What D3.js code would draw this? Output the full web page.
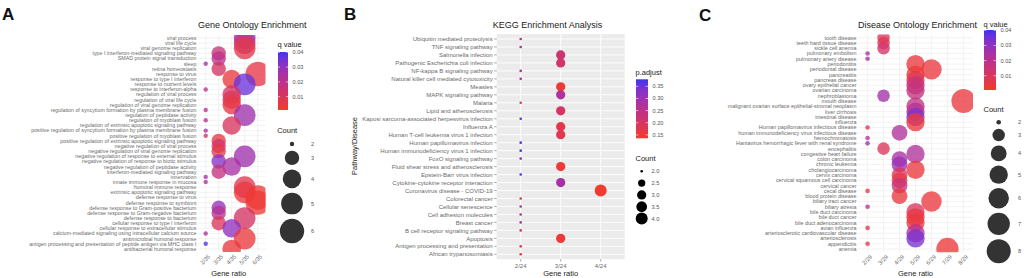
<!DOCTYPE html>
<html>
<head>
<meta charset="utf-8">
<script src="https://cdn.jsdelivr.net/npm/d3@7"></script>
<style>
body { margin: 0; background: #fff; }
svg { font-family: "Liberation Sans", Arial, sans-serif; }
</style>
</head>
<body>
<svg id="fig" width="1024" height="278"></svg>
<script>
// ---------- A: GO enrichment ----------
const goTerms = ["viral process","viral life cycle","viral genome replication","type I interferon-mediated signaling pathway","SMAD protein signal transduction","sleep","retina homeostasis","response to virus","response to type I interferon","response to nutrient levels","response to interferon-alpha","regulation of viral process","regulation of viral life cycle","regulation of viral genome replication","regulation of syncytium formation by plasma membrane fusion","regulation of peptidase activity","regulation of myoblast fusion","regulation of extrinsic apoptotic signaling pathway","positive regulation of syncytium formation by plasma membrane fusion","positive regulation of myoblast fusion","positive regulation of extrinsic apoptotic signaling pathway","negative regulation of viral process","negative regulation of viral genome replication","negative regulation of response to external stimulus","negative regulation of response to biotic stimulus","negative regulation of peptidase activity","interferon-mediated signaling pathway","innervation","innate immune response in mucosa","humoral immune response","extrinsic apoptotic signaling pathway","defense response to virus","defense response to symbiont","defense response to Gram-positive bacterium","defense response to Gram-negative bacterium","defense response to bacterium","cellular response to type I interferon","cellular response to extracellular stimulus","calcium-mediated signaling using intracellular calcium source","antimicrobial humoral response","antigen processing and presentation of peptide antigen via MHC class I","antibacterial humoral response"];
const goCount = [5,5,5,3,3,2,3,6,4,5,2,4,4,4,2,5,2,4,2,2,3,3,3,5,3,4,3,2,2,5,5,6,6,3,3,5,3,4,2,5,2,4];
const goQ = [0.028,0.017,0.007,0.016,0.02,0.026,0.012,0.006,0.004,0.036,0.019,0.012,0.009,0.006,0.022,0.027,0.022,0.011,0.026,0.012,0.005,0.014,0.006,0.027,0.032,0.025,0.018,0.026,0.024,0.008,0.005,0.003,0.003,0.029,0.022,0.012,0.01,0.03,0.024,0.004,0.039,0.004];
const goRatios = ["2/35","3/35","4/35","5/35","6/35"];
const goQTicks = [0.01, 0.02, 0.03, 0.04];
const goCountKeys = [2, 3, 4, 5, 6];

// ---------- B: KEGG enrichment ----------
const keggTerms = ["Ubiquitin mediated proteolysis","TNF signaling pathway","Salmonella infection","Pathogenic Escherichia coli infection","NF-kappa B signaling pathway","Natural killer cell mediated cytotoxicity","Measles","MAPK signaling pathway","Malaria","Lipid and atherosclerosis","Kaposi sarcoma-associated herpesvirus infection","Influenza A","Human T-cell leukemia virus 1 infection","Human papillomavirus infection","Human immunodeficiency virus 1 infection","FoxO signaling pathway","Fluid shear stress and atherosclerosis","Epstein-Barr virus infection","Cytokine-cytokine receptor interaction","Coronavirus disease - COVID-19","Colorectal cancer","Cellular senescence","Cell adhesion molecules","Breast cancer","B cell receptor signaling pathway","Apoptosis","Antigen processing and presentation","African trypanosomiasis"];
const keggCount = [2,2,3,3,2,2,3,3,2,3,2,3,3,2,2,2,3,2,3,4,2,2,2,2,2,3,2,2];
const keggP = [0.26,0.27,0.22,0.21,0.25,0.26,0.15,0.27,0.16,0.2,0.37,0.17,0.18,0.37,0.37,0.3,0.15,0.37,0.29,0.14,0.17,0.26,0.28,0.27,0.18,0.15,0.18,0.17];
const keggRatios = ["2/24","3/24","4/24"];
const keggPTicks = [0.15, 0.20, 0.25, 0.30, 0.35];
const keggCountKeys = [2.0, 2.5, 3.0, 3.5, 4.0];

// ---------- C: Disease Ontology enrichment ----------
const doTerms = ["tooth disease","teeth hard tissue disease","sickle cell anemia","pulmonary embolism","pulmonary artery disease","periodontitis","periodontal disease","pancreatitis","pancreas disease","ovary epithelial cancer","ovarian carcinoma","nephroblastoma","mouth disease","malignant ovarian surface epithelial-stromal neoplasm","liver cirrhosis","intestinal disease","influenza","Human papillomavirus infectious disease","human immunodeficiency virus infectious disease","hemochromatosis","Hantavirus hemorrhagic fever with renal syndrome","encephalitis","congestive heart failure","colon carcinoma","chronic leukemia","cholangiocarcinoma","cervix carcinoma","cervical squamous cell carcinoma","cervical cancer","cecal disease","blood protein disease","biliary tract cancer","biliary atresia","bile duct carcinoma","bile duct cancer","bile duct adenocarcinoma","avian influenza","arteriosclerotic cardiovascular disease","arteriosclerosis","appendicitis","anemia"];
const doCount = [3,3,3,2,2,5,6,5,5,5,5,3,8,5,5,5,5,2,4,2,2,3,5,4,4,5,4,4,4,2,4,6,2,5,5,5,2,5,5,2,7];
const doQ = [0.009,0.008,0.013,0.025,0.025,0.004,0.004,0.003,0.008,0.016,0.017,0.026,0.004,0.018,0.021,0.033,0.004,0.007,0.023,0.023,0.025,0.009,0.023,0.024,0.028,0.004,0.009,0.005,0.016,0.006,0.004,0.004,0.021,0.01,0.005,0.004,0.006,0.021,0.034,0.006,0.003];
const doRatios = ["2/29","3/29","4/29","5/29","6/29","7/29","8/29"];
const doQTicks = [0.01, 0.02, 0.03, 0.04];
const doCountKeys = [2, 3, 4, 5, 6, 7, 8];

const svg = d3.select("#fig");
const defs = svg.append("defs");
const axisGrey = "#6a6a6a";

// ggplot-like size scale: radius grows with sqrt of rescaled value
function sizeScale(cmin, cmax, rmin, rmax) {
  const lin = d3.scaleLinear().domain([0, 1]).range([rmin, rmax]);
  return c => lin(Math.sqrt((c - cmin) / (cmax - cmin)));
}
function colorScale(domain) {
  return d3.scaleLinear().domain(domain).range(["#f23b2b", "#3b34f0"]).interpolate(d3.interpolateLab);
}

function dotPanel(p) {
  const x = d3.scalePoint().domain(p.ratios).range([p.x0, p.x1]).padding(0.6);
  const y = d3.scalePoint().domain(p.terms).range([p.y0, p.y1]).padding(0.6);
  const g = svg.append("g");
  const gridCol = p.grey ? "#fff" : "#ebebeb";

  if (p.grey) {
    g.append("rect").attr("x", p.x0).attr("y", p.y0)
      .attr("width", p.x1 - p.x0).attr("height", p.y1 - p.y0).attr("fill", "#ebebeb");
  }
  g.selectAll("line.hy").data(p.terms).join("line").attr("class", "hy")
    .attr("x1", p.x0).attr("x2", p.x1).attr("y1", d => y(d)).attr("y2", d => y(d))
    .attr("stroke", gridCol).attr("stroke-width", p.grey ? 0.9 : 0.6);
  g.selectAll("line.vx").data(p.ratios).join("line").attr("class", "vx")
    .attr("x1", d => x(d)).attr("x2", d => x(d)).attr("y1", p.y0).attr("y2", p.y1)
    .attr("stroke", gridCol).attr("stroke-width", p.grey ? 0.9 : 0.6);

  defs.append("clipPath").attr("id", "clip" + p.id).append("rect")
    .attr("x", p.x0).attr("y", p.y0).attr("width", p.x1 - p.x0).attr("height", p.y1 - p.y0);

  g.append("g").attr("clip-path", `url(#clip${p.id})`)
    .selectAll("circle").data(d3.range(p.terms.length)).join("circle")
    .attr("cx", i => x(p.counts[i] + "/" + p.denom))
    .attr("cy", i => y(p.terms[i]))
    .attr("r", i => p.size(p.counts[i]))
    .attr("fill", i => p.color(p.vals[i]))
    .attr("fill-opacity", p.opacity);

  // y axis labels
  const tick = p.grey ? 2.5 : 0;
  if (p.grey) {
    g.selectAll("line.yt").data(p.terms).join("line").attr("class", "yt")
      .attr("x1", p.x0 - tick).attr("x2", p.x0).attr("y1", d => y(d)).attr("y2", d => y(d))
      .attr("stroke", "#555").attr("stroke-width", 0.5);
    g.selectAll("line.xt").data(p.ratios).join("line").attr("class", "xt")
      .attr("x1", d => x(d)).attr("x2", d => x(d)).attr("y1", p.y1).attr("y2", p.y1 + tick)
      .attr("stroke", "#555").attr("stroke-width", 0.5);
  }
  g.selectAll("text.yl").data(p.terms).join("text").attr("class", "yl")
    .attr("x", p.x0 - tick - 1.5).attr("y", d => y(d)).attr("dy", "0.36em")
    .attr("text-anchor", "end").attr("font-size", p.fs).attr("fill", axisGrey)
    .text(d => d);

  // x axis labels
  if (p.rotate) {
    g.selectAll("text.xl").data(p.ratios).join("text").attr("class", "xl")
      .attr("transform", d => `translate(${x(d) + 2},${p.y1 + 2}) rotate(-45)`)
      .attr("dy", "0.72em").attr("text-anchor", "end")
      .attr("font-size", 5.8).attr("fill", axisGrey).text(d => d);
  } else {
    g.selectAll("text.xl").data(p.ratios).join("text").attr("class", "xl")
      .attr("x", d => x(d)).attr("y", p.y1 + 9).attr("text-anchor", "middle")
      .attr("font-size", 6).attr("fill", axisGrey).text(d => d);
  }

  g.append("text").attr("x", p.x0 - (p.titleShift || 0)).attr("y", 28)
    .attr("font-size", 9).attr("fill", "#222").text(p.title);
  g.append("text").attr("x", (p.x0 + p.x1) / 2 - (p.xlabShift || 0)).attr("y", 275.5)
    .attr("text-anchor", "middle").attr("font-size", 7.5).attr("fill", "#222").text("Gene ratio");
}

function colorbar(p) {
  const id = "grad" + p.id;
  const grad = defs.append("linearGradient").attr("id", id)
    .attr("x1", 0).attr("y1", 1).attr("x2", 0).attr("y2", 0);
  d3.range(0, 1.0001, 0.1).forEach(t => {
    grad.append("stop").attr("offset", t)
      .attr("stop-color", p.color(p.domain[0] + t * (p.domain[1] - p.domain[0])));
  });
  const s = d3.scaleLinear().domain(p.domain).range([p.y + p.h, p.y]);
  const g = svg.append("g");
  g.append("text").attr("x", p.x - 0.5).attr("y", p.titleY).attr("font-size", 7.5)
    .attr("fill", "#222").text(p.title);
  g.append("rect").attr("x", p.x).attr("y", p.y).attr("width", p.w).attr("height", p.h)
    .attr("fill", `url(#${id})`);
  g.selectAll("line.tl").data(p.ticks).join("line").attr("class", "tl")
    .attr("x1", p.x).attr("x2", p.x + p.w / 5).attr("y1", d => s(d)).attr("y2", d => s(d))
    .attr("stroke", "#fff").attr("stroke-width", 0.6);
  g.selectAll("line.tr").data(p.ticks).join("line").attr("class", "tr")
    .attr("x1", p.x + p.w).attr("x2", p.x + p.w * 0.8).attr("y1", d => s(d)).attr("y2", d => s(d))
    .attr("stroke", "#fff").attr("stroke-width", 0.6);
  g.selectAll("text.tk").data(p.ticks).join("text").attr("class", "tk")
    .attr("x", p.x + p.w + 4.5).attr("y", d => s(d)).attr("dy", "0.36em")
    .attr("font-size", 5.6).attr("fill", "#555").text(d => d3.format(".2f")(d));
}

function sizeLegend(p) {
  const g = svg.append("g");
  g.append("text").attr("x", p.x - 0.5).attr("y", p.titleY).attr("font-size", 7.5)
    .attr("fill", "#222").text("Count");
  let cy = p.y;
  const ys = p.keys.map((k, i) => {
    if (i > 0) cy += Math.max(p.kmin, p.size(p.keys[i - 1]) + p.size(k) + p.gap);
    return cy;
  });
  g.selectAll("circle").data(p.keys).join("circle")
    .attr("cx", p.cx).attr("cy", (d, i) => ys[i]).attr("r", d => p.size(d))
    .attr("fill", p.fill);
  g.selectAll("text").filter(".kl").data(p.keys).join("text").attr("class", "kl")
    .attr("x", p.lx).attr("y", (d, i) => ys[i]).attr("dy", "0.36em")
    .attr("font-size", 5.6).attr("fill", "#555").text(p.fmt);
}

// ---- A ----
const goColor = colorScale([0.001, 0.0402]);
const goSize = sizeScale(2, 6, 2.2, 12.2);
dotPanel({ id: "A", terms: goTerms, counts: goCount, vals: goQ, ratios: goRatios, denom: 35,
  x0: 197.9, x1: 265.5, y0: 34.9, y1: 252, color: goColor, size: goSize,
  grey: false, rotate: true, fs: 5.3, opacity: 0.78, title: "Gene Ontology Enrichment", xlabShift: 3 });
colorbar({ id: "A", color: goColor, domain: [0.001, 0.0402], ticks: goQTicks,
  x: 278, y: 52, w: 10, h: 58, title: "q value", titleY: 47 });
sizeLegend({ keys: goCountKeys, size: goSize, x: 277.7, titleY: 133, cx: 292, y: 144,
  kmin: 11, gap: 4.5, lx: 311, fill: "#333", fmt: d => d });

// ---- B ----
const keggColor = colorScale([0.136, 0.379]);
const keggSize = sizeScale(2, 4, 1.3, 6);
dotPanel({ id: "B", terms: keggTerms, counts: keggCount, vals: keggP, ratios: keggRatios, denom: 24,
  x0: 496.7, x1: 624.7, y0: 34.2, y1: 259.1, color: keggColor, size: keggSize,
  grey: true, rotate: false, fs: 6, opacity: 1, title: "KEGG Enrichment Analysis", titleShift: 4 });
colorbar({ id: "B", color: keggColor, domain: [0.136, 0.379], ticks: keggPTicks,
  x: 636, y: 79.3, w: 12, h: 59, title: "p.adjust", titleY: 75 });
sizeLegend({ keys: keggCountKeys, size: keggSize, x: 636, titleY: 160.5, cx: 641.7, y: 171.3,
  kmin: 11.8, gap: 0.5, lx: 651.5, fill: "#000", fmt: d => d3.format(".1f")(d) });
svg.append("text").attr("transform", "translate(357,146) rotate(-90)")
  .attr("text-anchor", "middle").attr("font-size", 7.5).attr("fill", "#222").text("Pathway/Disease");

// ---- C ----
const doColor = colorScale([0.0006, 0.0402]);
const doSize = sizeScale(2, 8, 2.3, 12);
dotPanel({ id: "C", terms: doTerms, counts: doCount, vals: doQ, ratios: doRatios, denom: 29,
  x0: 858, x1: 973, y0: 34.5, y1: 252.2, color: doColor, size: doSize,
  grey: false, rotate: true, fs: 5.4, opacity: 0.78, title: "Disease Ontology Enrichment" });
colorbar({ id: "C", color: doColor, domain: [0.0006, 0.0402], ticks: doQTicks,
  x: 984, y: 30, w: 12, h: 60, title: "q value", titleY: 26.5 });
sizeLegend({ keys: doCountKeys, size: doSize, x: 984, titleY: 111.5, cx: 998.7, y: 122.3,
  kmin: 11, gap: 4.2, lx: 1018, fill: "#333", fmt: d => d });

// panel letters
svg.selectAll("text.letter").data([["A", 2, 20], ["B", 344, 20], ["C", 699, 21]])
  .join("text").attr("class", "letter")
  .attr("x", d => d[1]).attr("y", d => d[2])
  .attr("font-size", 17).attr("font-weight", "bold").attr("fill", "#111")
  .text(d => d[0]);
</script>
</body>
</html>
